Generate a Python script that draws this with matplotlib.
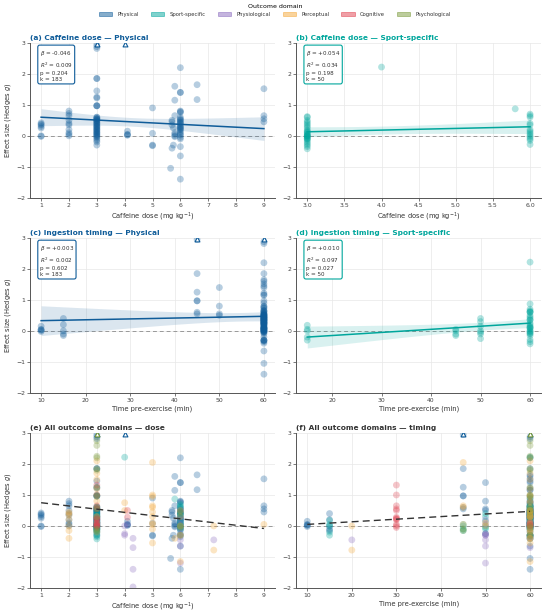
import numpy as np
import matplotlib
matplotlib.use("Agg")
import matplotlib.pyplot as plt
from matplotlib.patches import Patch

# effect sizes per outcome domain: (dose mg/kg, time pre-exercise min, Hedges g)
nan = np.nan
physical = [
    (1, 10, -0.02), (1, 60, 0.0), (1, 60, 0.25), (1, 60, 0.3), (1, 60, 0.35), (1, 60, 0.38), (1, 60, 0.42),
    (2, 15, 0.4), (2, 15, 0.2), (2, 15, 0.0), (2, 60, 0.8), (2, 60, 0.72), (2, 60, 0.65), (2, 60, 0.5),
    (2, 60, 0.35), (2, 60, 0.1), (2, 60, 0.05),
    (3, 45, 3.4), (3, 45, 2.95), (3, 60, 2.88), (3, 60, 2.82), (3, 45, 1.85), (3, 60, 1.85), (3, 60, 1.45),
    (3, 45, 1.25), (3, 60, 1.22), (3, 45, 0.97), (3, 45, 0.97), (3, 60, 0.97), (3, 45, 0.6), (3, 45, 0.55),
    (3, 50, 0.55), (3, 50, 0.5), (3, 60, 0.6), (3, 60, 0.55), (3, 60, 0.5), (3, 60, 0.48), (3, 60, 0.45),
    (3, 60, 0.42), (3, 60, 0.4), (3, 60, 0.38), (3, 60, 0.35), (3, 60, 0.32), (3, 60, 0.3), (3, 60, 0.28),
    (3, 60, 0.25), (3, 60, 0.22), (3, 60, 0.2), (3, 60, 0.18), (3, 60, 0.15), (3, 60, 0.12), (3, 60, 0.1),
    (3, 60, 0.08), (3, 60, 0.05), (3, 60, 0.03), (3, 60, 0.0), (3, 60, -0.02), (3, 60, -0.05), (3, 15, -0.1),
    (3, 15, -0.15), (3, 60, -0.2), (3, 60, -0.3),
    (4, 60, 3.3), (4.1, 10, 0.15), (4.1, 10, 0.05), (4.1, 10, 0.03), (4.1, 10, 0.02),
    (5, 60, 0.9), (5, 60, 0.08), (5, 60, -0.32), (5, 60, -0.3),
    (5.8, 60, 1.6), (5.8, 60, 1.15), (5.8, 60, 0.65), (5.7, 60, 0.5), (5.7, 60, 0.45), (5.7, 60, 0.35),
    (5.75, 60, 0.25), (5.8, 60, 0.1), (5.8, 60, 0.05), (5.8, 60, 0.0), (5.8, 60, -0.03), (5.75, 60, -0.3),
    (5.7, 60, -0.4), (5.65, 60, -1.05),
    (6, 60, 2.2), (6, 50, 1.4), (6, 60, 1.4), (6, 50, 0.8), (6, 60, 0.78), (6, 60, 0.75), (6, 60, 0.6),
    (6, 60, 0.55), (6, 60, 0.52), (6, 60, 0.5), (6, 60, 0.45), (6, 60, 0.42), (6, 60, 0.4), (6, 60, 0.35),
    (6, 60, 0.3), (6, 60, 0.28), (6, 60, 0.25), (6, 60, 0.22), (6, 60, 0.2), (6, 60, 0.15), (6, 60, 0.1),
    (6, 60, 0.05), (6, 60, 0.02), (6, 60, -0.05), (6, 60, -0.1), (6, 60, -0.35), (6, 60, -0.65), (6, 60, -1.4),
    (6.6, 60, 1.65), (6.6, 60, 1.17),
    (9, 60, 1.52), (9, 60, 0.65), (9, 60, 0.55), (9, 60, 0.45),
]
sport = [
    (3, 15, 0.18), (3, 15, 0.05), (3, 15, 0.0), (3, 15, -0.2), (3, 15, -0.3),
    (3, 45, 0.05), (3, 45, 0.0), (3, 45, -0.1), (3, 45, -0.15),
    (3, 50, 0.4), (3, 50, 0.3), (3, 50, 0.15), (3, 50, 0.0), (3, 50, -0.05), (3, 50, -0.1), (3, 50, -0.25),
    (3, 60, 0.62), (3, 60, 0.6), (3, 60, 0.5), (3, 60, 0.45), (3, 60, 0.35), (3, 60, 0.25), (3, 60, 0.12),
    (3, 60, 0.1), (3, 60, -0.02), (3, 60, -0.08), (3, 60, -0.35), (3, 60, -0.42),
    (4, 60, 2.22), (5.8, 60, 0.87),
    (6, 60, 0.7), (6, 60, 0.65), (6, 60, 0.6), (6, 60, 0.4), (6, 60, 0.35), (6, 60, 0.2), (6, 60, 0.15),
    (6, 60, 0.1), (6, 60, 0.05), (6, 60, 0.0), (6, 60, -0.05), (6, 60, -0.1), (6, 60, -0.15), (6, 60, -0.28),
]
physiological = [
    (3, 60, 0.3), (3, 60, 0.1), (4, 60, 0.0), (4, 50, -0.25), (4, 50, -0.3), (4.1, 60, 0.05),
    (4.3, 60, -0.4), (4.3, 60, -0.7), (4.3, nan, -1.4), (4.3, nan, -1.97),
    (6, 50, 0.2), (6, 50, 0.05), (6, 50, -0.25), (6, 50, -0.3), (6, 50, -0.45), (6, 50, -0.65),
    (6, 50, -1.2), (6, 60, -0.1), (7.2, 20, -0.45),
]
perceptual = [
    (2, 60, 0.45), (2, 60, 0.4), (2, 60, 0.35), (2, 60, 0.2), (2, 60, 0.0), (2, 60, -0.15), (2, 60, -0.4),
    (3, 60, 2.1), (3, 60, 1.7), (3, 60, 1.5), (3, 60, 1.2), (3, 60, 0.8), (3, 60, 0.6), (3, 60, 0.3),
    (3, 60, 0.1), (3, 60, -0.2), (4, 60, 0.75), (4, 60, 0.5),
    (5, 45, 2.05), (5, 60, 1.0), (5, 60, 0.95), (5, 45, 0.65), (5, 45, 0.6), (5, 60, 0.45), (5, 60, 0.3),
    (5, 50, 0.1), (5, 45, 0.05), (5, 60, -0.1), (5, 60, -0.55),
    (5.8, 60, -0.4), (6, 50, 0.0), (6, 60, 0.5), (6, 60, 0.3), (6, 60, -0.3), (6, 60, -1.15),
    (7.2, 20, 0.0), (7.2, 20, -0.78), (9, 60, 0.05),
]
cognitive = [
    (3, 30, 1.32), (3, 30, 1.0), (3, 30, 0.65), (3, 30, 0.55), (3, 30, 0.25), (3, 30, 0.22), (3, 30, 0.2),
    (3, 30, 0.05), (3, 30, 0.0), (3, 30, -0.05), (3, 60, 0.0), (3, 60, 0.02), (3, 60, 0.1),
    (4.1, 30, 0.5), (4.1, 30, 0.28),
]
psychological = [
    (3, 60, 3.2), (3, 60, 2.75), (3, 60, 2.6), (3, 60, 2.25), (3, 60, 2.2), (3, 60, 1.85), (3, 60, 1.8),
    (3, 60, 1.25), (3, 60, 1.0), (3, 60, 0.95), (3, 60, 0.55), (3, 60, 0.3), (3, 45, -0.1), (3, 45, -0.15),
    (6, 60, 0.45), (6, 60, 0.0), (6, 60, -0.05), (6, 60, -0.3),
]

domains = ["Physical", "Sport-specific", "Physiological", "Perceptual", "Cognitive", "Psychological"]
domain_data = [physical, sport, physiological, perceptual, cognitive, psychological]
colors = ["#0f5c99", "#00a69c", "#8a6bbe", "#f5a93a", "#e0404f", "#7a9a3a"]

# meta-regression results: (intercept, slope)
fit_dose_phys = (0.646, -0.046)
fit_dose_sport = (-0.032, 0.054)
fit_time_phys = (0.302, 0.0028)
fit_time_sport = (-0.35, 0.010)
fit_dose_all = (0.854, -0.104)
fit_time_all = (-0.034, 0.0084)

stats_a = ("-0.046", "0.009", "0.204", "183")
stats_b = ("+0.054", "0.034", "0.198", "50")
stats_c = ("+0.003", "0.002", "0.602", "183")
stats_d = ("+0.010", "0.097", "0.027", "50")

YMIN, YMAX = -2, 3


def get(data, col):
    arr = np.array(data, dtype=float)
    return arr[:, col], arr[:, 2]


def scatter(ax, x, g, color):
    ok = ~np.isnan(x)
    x, g = x[ok], g[ok]
    inside = g <= YMAX
    ax.scatter(x[inside], g[inside], s=24, color=color, alpha=0.3, edgecolors="none", zorder=3)
    if (~inside).any():
        ax.scatter(x[~inside], np.full((~inside).sum(), 2.96), marker="^", s=12,
                   facecolors="white", edgecolors=color, linewidths=0.8, zorder=5)


def fit_line(ax, x, g, fit, color, band=True, dashed=False):
    ok = ~np.isnan(x)
    x, g = x[ok], g[ok]
    b0, b1 = fit
    xs = np.linspace(x.min(), x.max(), 100)
    ys = b0 + b1 * xs
    if band:
        res = g - (b0 + b1 * x)
        s = np.sqrt(np.sum(res ** 2) / (len(x) - 2))
        sxx = np.sum((x - x.mean()) ** 2)
        se = s * np.sqrt(1 / len(x) + (xs - x.mean()) ** 2 / sxx)
        ax.fill_between(xs, ys - 1.96 * se, ys + 1.96 * se, color=color, alpha=0.15, lw=0, zorder=2)
    if dashed:
        ax.plot(xs, ys, color="#333333", lw=1.0, ls=(0, (5, 3)), zorder=6)
    else:
        ax.plot(xs, ys, color=color, lw=1.1, zorder=6)


def statbox(ax, st, color):
    txt = "$\\beta$ = %s\n$R^2$ = %s\np = %s\nk = %s" % st
    ax.text(0.04, 0.96, txt, transform=ax.transAxes, va="top", ha="left", fontsize=4.1,
            color="#333333", linespacing=1.3, zorder=8,
            bbox=dict(boxstyle="round,pad=0.35", fc="white", ec=color, lw=0.8))


def style(ax, title, tcolor, xlabel, ylabel=True):
    ax.set_ylim(YMIN, YMAX)
    ax.set_yticks(range(-2, 4))
    ax.axhline(0, color="#999999", lw=0.7, ls=(0, (4, 3)), zorder=1)
    ax.grid(True, color="#e8e8e8", lw=0.5, zorder=0)
    ax.set_axisbelow(True)
    for sp in ["top", "right"]:
        ax.spines[sp].set_visible(False)
    for sp in ["left", "bottom"]:
        ax.spines[sp].set_color("#555555")
        ax.spines[sp].set_linewidth(0.7)
    ax.tick_params(labelsize=4.4, length=2, width=0.5, colors="#444444", pad=1.5)
    ax.set_title(title, loc="left", fontsize=5.3, fontweight="bold", color=tcolor, pad=2)
    ax.set_xlabel(xlabel, fontsize=4.9, color="#333333", labelpad=2)
    if ylabel:
        ax.set_ylabel("Effect size (Hedges $g$)", fontsize=4.9, color="#333333", labelpad=2.5)


fig, axes = plt.subplots(3, 2, figsize=(5.5, 6.13), dpi=100)
fig.subplots_adjust(left=0.0545, right=0.984, top=0.93, bottom=0.041, wspace=0.086, hspace=0.26)
dose_lab = "Caffeine dose (mg kg$^{-1}$)"
time_lab = "Time pre-exercise (min)"

# (a)
ax = axes[0, 0]
x, g = get(physical, 0)
scatter(ax, x, g, colors[0])
fit_line(ax, x, g, fit_dose_phys, colors[0])
statbox(ax, stats_a, colors[0])
ax.set_xticks(range(1, 10))
style(ax, "(a) Caffeine dose — Physical", colors[0], dose_lab)

# (b)
ax = axes[0, 1]
x, g = get(sport, 0)
scatter(ax, x, g, colors[1])
fit_line(ax, x, g, fit_dose_sport, colors[1])
statbox(ax, stats_b, colors[1])
ax.set_xticks(np.arange(3.0, 6.01, 0.5))
style(ax, "(b) Caffeine dose — Sport-specific", colors[1], dose_lab, ylabel=False)

# (c)
ax = axes[1, 0]
x, g = get(physical, 1)
scatter(ax, x, g, colors[0])
fit_line(ax, x, g, fit_time_phys, colors[0])
statbox(ax, stats_c, colors[0])
ax.set_xticks(range(10, 61, 10))
style(ax, "(c) Ingestion timing — Physical", colors[0], time_lab)

# (d)
ax = axes[1, 1]
x, g = get(sport, 1)
scatter(ax, x, g, colors[1])
fit_line(ax, x, g, fit_time_sport, colors[1])
statbox(ax, stats_d, colors[1])
ax.set_xticks(range(20, 61, 10))
style(ax, "(d) Ingestion timing — Sport-specific", colors[1], time_lab, ylabel=False)

# (e) and (f) all domains
for col, ax, fit, lab, ttl in [(0, axes[2, 0], fit_dose_all, dose_lab, "(e) All outcome domains — dose"),
                                (1, axes[2, 1], fit_time_all, time_lab, "(f) All outcome domains — timing")]:
    allx, allg = [], []
    for data, c in zip(domain_data, colors):
        x, g = get(data, col)
        scatter(ax, x, g, c)
        allx.append(x)
        allg.append(g)
    fit_line(ax, np.concatenate(allx), np.concatenate(allg), fit, "#333333", band=False, dashed=True)
    if col == 0:
        ax.set_xticks(range(1, 10))
    else:
        ax.set_xticks(range(10, 61, 10))
    style(ax, ttl, "#333333", lab, ylabel=(col == 0))

handles = [Patch(facecolor=c, edgecolor=c, alpha=0.5, lw=0.7) for c in colors]
leg = fig.legend(handles, domains, loc="upper center", bbox_to_anchor=(0.5, 1.0), ncol=6,
                 frameon=False, fontsize=3.8, title="Outcome domain", title_fontsize=4.5,
                 handlelength=2.5, handleheight=0.9, columnspacing=2.3, handletextpad=1.0,
                 borderpad=0.3)
for t in leg.get_texts():
    t.set_color("#333333")

fig.savefig("out.png", dpi=100)
